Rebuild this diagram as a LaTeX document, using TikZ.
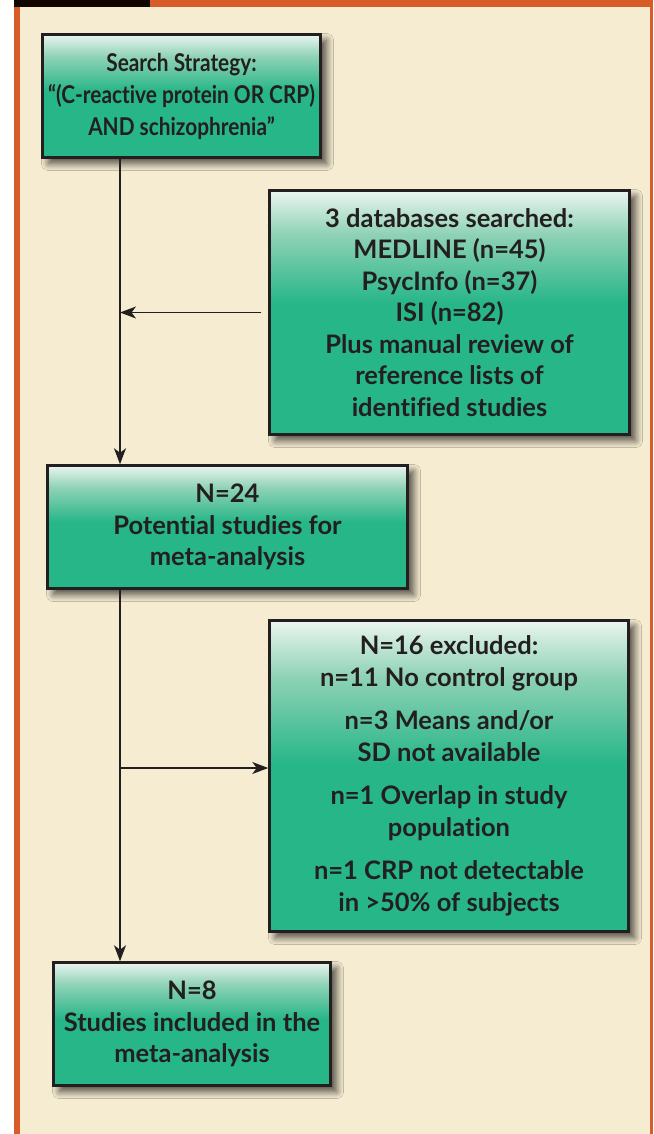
\documentclass[tikz,border=0pt]{standalone}
\usepackage{fontspec}
\setmainfont{Lato}[Ligatures=NoCommon]
\newfontfamily\narrowfont[FakeStretch=0.85,Ligatures=NoCommon]{Lato}
\usetikzlibrary{arrows.meta,shadows.blur}
\definecolor{cream}{HTML}{F6ECD1}
\definecolor{orng}{HTML}{D75C27}
\definecolor{blk}{HTML}{120500}
\definecolor{bgreen}{HTML}{27B688}
\definecolor{bmid}{HTML}{8FD2B6}
\definecolor{btop}{HTML}{EAF5EF}
\definecolor{ink}{HTML}{231F20}
\pgfdeclareverticalshading{boxgrad}{100bp}{color(0bp)=(bgreen); color(25bp)=(bgreen); color(52bp)=(bgreen); color(66bp)=(bmid); color(75bp)=(btop); color(100bp)=(btop)}
\tikzset{
  flowbox/.style={draw=ink, line width=2.5pt, shading=boxgrad, rectangle, align=center,
    text=ink, font=\fontsize{25.5}{31.5}\selectfont\bfseries, inner sep=0pt,
    blur shadow={shadow xshift=6pt, shadow yshift=-6pt, shadow blur steps=12, shadow blur radius=7pt, shadow opacity=70}},
  conn/.style={draw=ink, line width=1.6pt},
  arr/.style={conn, -{Stealth[length=16pt, width=12pt, inset=4.5pt]}}
}
\begin{document}
\begin{tikzpicture}[x=1pt,y=-1pt]
\useasboundingbox (0,0) rectangle (653,1134);
\fill[white] (0,0) rectangle (653,1134);
\fill[cream] (14,0) rectangle (653,1134);
\fill[orng] (14,0) rectangle (19.5,1134);
\fill[orng] (649.5,0) rectangle (653,1134);
\fill[orng] (150,0) rectangle (653,7.5);
\fill[blk] (14,0) rectangle (150,7.5);

\node[flowbox, minimum width=278pt, minimum height=123pt,
      font=\narrowfont\fontsize{24.5}{32}\selectfont\bfseries] (b1) at (181.5,96)
  {Search Strategy:\\ “(C-reactive protein OR CRP)\\ AND schizophrenia”};
\node[flowbox, minimum width=360pt, minimum height=244pt] (b2) at (449.5,312.5)
  {3 databases searched:\\ MEDLINE (n=45)\\ PsycInfo (n=37)\\ ISI (n=82)\\ Plus manual review of\\ reference lists of\\ identified studies};
\node[flowbox, minimum width=360pt, minimum height=123pt] (b3) at (227.5,527)
  {N=24\\ Potential studies for\\ meta-analysis};
\node[flowbox, minimum width=359pt, minimum height=311pt] (b4) at (449,776)
  {N=16 excluded:\\ n=11 No control group\\[12pt] n=3 Means and/or\\ SD not available\\[12pt] n=1 Overlap in study\\ population\\[12pt] n=1 CRP not detectable\\ in >50\% of subjects};
\node[flowbox, minimum width=277pt, minimum height=123pt] (b5) at (192,1024)
  {N=8\\ Studies included in the\\ meta-analysis};

\coordinate (spine) at (120,0);
\coordinate (j2) at (120,768);
\draw[arr] (b1.south -| spine) -- (b3.north -| spine);
\draw[arr] ([xshift=-7pt]b2.west) -- (b2.west -| spine);
\draw[arr] (b3.south -| spine) -- (b5.north -| spine);
\draw[arr] (j2) -- (j2 -| b4.west);
\end{tikzpicture}
\end{document}
